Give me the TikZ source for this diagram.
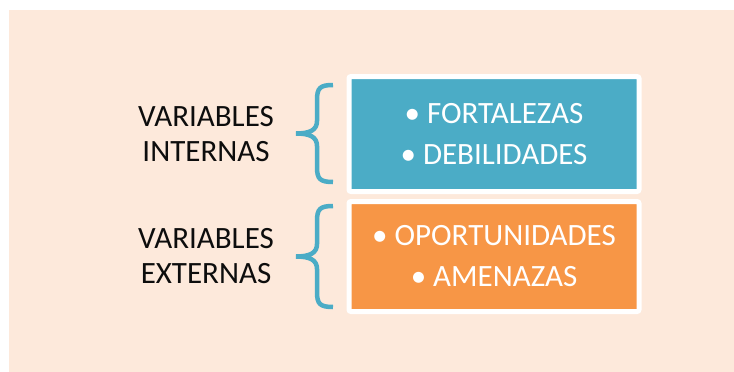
\documentclass[tikz,border=0pt]{standalone}
\usepackage{fontspec}
\setmainfont{Carlito}
\usetikzlibrary{positioning}
\definecolor{fondo}{HTML}{FDE9DB}
\definecolor{azul}{HTML}{4BACC6}
\definecolor{naranja}{HTML}{F79646}
\definecolor{texto}{HTML}{0D0D0D}

\begin{document}
\begin{tikzpicture}[x=1pt, y=-1pt,
            caja/.style={rectangle, draw=white, line width=5pt, rounded corners=2pt,
            minimum width=290pt, align=center, text=white,
            font=\fontsize{31}{41}\selectfont},
            etiqueta/.style={align=center, text=texto, font=\fontsize{31}{35}\selectfont},
            llave/.style={draw=azul, line width=4.5pt}]
        
          \useasboundingbox (0,0) rectangle (734,372);
          \fill[fondo] (9,10) rectangle (734,372);
          \node[caja, fill=azul, minimum height=115pt] (internas) at (494,134)
               {• FORTALEZAS\\• DEBILIDADES};
          \node[caja, fill=naranja, minimum height=110pt, below=5pt of internas] (externas)
               {• OPORTUNIDADES\\• AMENAZAS};
          \node[etiqueta] (varint) at (206,134.5) {VARIABLES\\INTERNAS};
          \node[etiqueta] (varext) at (206,256.5) {VARIABLES\\EXTERNAS};
          \foreach \t/\l in {85/21, 206/23}
            \draw[llave] (333,\t) .. controls +(-13,0) and +(0,-12) .. ++(-16,15)
              -- ++(0,\l) .. controls +(0,9) and +(14,0) .. ++(-21,12.5)
              .. controls +(14,0) and +(0,-9) .. ++(21,12.5)
              -- ++(0,\l) .. controls +(0,12) and +(-13,0) .. ++(16,15);
        \end{tikzpicture}
\end{document}
